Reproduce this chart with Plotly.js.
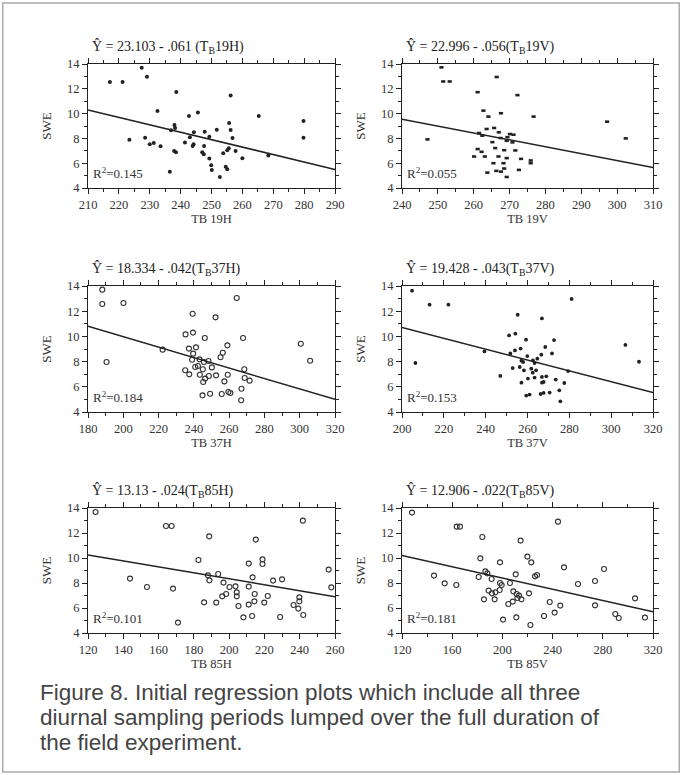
<!DOCTYPE html>
<html>
<head>
<meta charset="utf-8">
<script src="https://cdn.plot.ly/plotly-3.0.1.min.js"></script>
<style>html,body{margin:0;padding:0;background:#fff}#chart{width:682px;height:775px}</style>
</head>
<body>
<div id="chart"></div>
<script>
// ---- Data ----
const xTitles = ["TB 19H", "TB 19V", "TB 37H", "TB 37V", "TB 85H", "TB 85V"];
const eqTitles = [
  "Ŷ = 23.103 - .061 (T<sub>B</sub>19H)",
  "Ŷ = 22.996 - .056(T<sub>B</sub>19V)",
  "Ŷ = 18.334 - .042(T<sub>B</sub>37H)",
  "Ŷ = 19.428 - .043(T<sub>B</sub>37V)",
  "Ŷ = 13.13 - .024(T<sub>B</sub>85H)",
  "Ŷ = 12.906 - .022(T<sub>B</sub>85V)"
];
const r2Values = ["0.145", "0.055", "0.184", "0.153", "0.101", "0.181"];
const captionLines = [
  "Figure 8. Initial regression plots which include all three",
  "diurnal sampling periods lumped over the full duration of",
  "the field experiment."
];

const p1x = [217.1,221.2,227.4,229.1,223.4,228.5,230.0,231.3,233.5,232.5,238.6,236.5,236.9,238.0,238.2,237.9,238.5,241.4,242.7,243.0,243.9,244.2,244.3,245.6,247.0,247.5,247.6,247.8,249.3,249.3,249.9,250.1,251.7,252.7,253.8,254.6,255.1,255.1,255.6,255.7,256.2,256.2,256.8,257.8,260.0,265.3,268.4,279.8,279.8];
const p1y = [12.55,12.55,13.7,12.98,7.9,8.06,7.52,7.63,7.36,10.21,11.74,5.32,8.65,9.08,8.84,6.98,6.88,7.66,9.81,8.09,7.39,7.52,8.49,10.08,6.88,6.72,7.39,8.54,8.14,6.37,5.83,5.45,8.70,4.89,6.80,5.72,5.51,7.04,7.20,9.24,11.45,8.68,8.03,6.98,6.39,9.81,6.63,9.40,8.06];

const p2x = [251.0,251.5,253.3,266.4,261.1,272.2,247.1,262.7,264.1,267.6,276.7,297.2,302.4,261.5,262.4,263.6,265.7,267.0,267.5,269.2,269.4,270.1,271.1,270.8,265.2,266.0,261.1,260.1,262.2,263.1,266.9,268.5,269.2,268.3,271.6,273.2,275.9,275.9,272.6,265.5,267.6,266.3,268.5,263.8,269.2];
const p2y = [13.73,12.59,12.59,12.95,11.73,11.49,7.92,10.24,9.76,10.03,9.76,9.35,8.0,8.43,8.22,8.76,8.84,8.49,8.03,7.81,8.1,8.35,8.3,7.68,7.70,7.22,7.14,6.54,6.92,6.54,6.54,7.05,6.41,6.0,7.03,6.35,6.22,6.0,5.46,6.0,5.32,5.38,5.57,5.24,4.89];

const p3x = [188.1,188.1,200.1,190.5,264.3,239.3,252.3,235.3,239.5,246.2,267.9,222.3,237.2,241.2,239.6,259.0,256.4,255.1,300.6,305.9,239.0,243.2,245.7,248.3,268.6,235.1,237.4,240.8,242.3,245.1,250.2,243.4,248.5,252.6,259.2,246.4,245.3,257.3,268.8,271.6,267.0,244.9,249.2,255.8,259.6,260.7,266.8];
const p3y = [13.71,12.57,12.65,7.97,13.05,11.8,11.51,10.16,10.30,9.87,9.87,8.95,9.03,9.13,8.63,9.29,8.70,8.34,9.42,8.07,8.15,8.18,7.97,8.05,7.39,7.31,6.99,7.57,7.65,7.39,7.54,6.96,6.86,6.91,6.96,6.65,6.38,6.43,6.70,6.49,5.85,5.32,5.45,5.43,5.59,5.51,4.93];

const p4x = [204.8,213.2,222.2,206.4,281.1,255.3,266.9,251.2,254.2,259.3,272.7,268.5,239.4,254.0,256.7,251.8,271.7,306.8,313.3,257.1,259.9,262.6,264.7,266.6,257.9,263.4,247.0,252.9,256.3,258.3,261.8,262.5,264.1,260.2,263.4,266.9,269.0,267.7,273.5,277.6,257.1,266.9,275.2,259.4,261.0,266.3,267.7,270.6,275.7,279.4];
const p4y = [13.63,12.52,12.52,7.89,12.97,11.72,11.43,10.08,10.22,9.74,9.71,9.16,8.81,8.89,9.03,8.65,8.65,9.32,7.99,8.07,8.44,8.10,8.23,8.55,7.97,7.89,6.86,7.49,7.57,7.31,7.44,7.12,7.31,6.65,6.73,6.78,6.83,6.38,6.57,6.30,6.33,6.33,5.72,5.30,5.38,5.43,5.51,5.54,4.85,7.25];

const p5x = [124.3,164.2,167.4,241.8,188.7,215.1,182.6,218.9,218.9,211.1,256.4,143.8,153.4,168.2,188.0,193.8,188.8,213.3,224.9,230.0,257.9,196.8,200.2,203.6,198.3,196.1,204.3,204.3,211.1,214.5,221.9,239.8,239.8,185.8,192.7,211.1,214.3,219.9,205.3,236.5,239.2,228.9,242.0,208.1,213.0,171.0];
const p5y = [13.68,12.56,12.56,12.99,11.73,11.47,9.84,9.89,9.52,9.55,9.07,8.35,7.68,7.55,8.61,8.72,8.21,8.45,8.19,8.29,7.65,8.03,7.68,7.73,7.12,6.93,7.25,6.93,7.71,7.12,6.96,6.85,6.53,6.45,6.43,6.27,6.53,6.43,6.16,6.24,5.95,5.28,5.44,5.25,5.36,4.83];

const p6x = [128.0,163.6,166.2,244.3,184.0,214.5,182.4,219.9,223.0,198.1,249.1,281.0,145.5,154.0,163.3,181.1,186.4,188.0,191.4,210.6,226.0,227.6,260.2,273.8,305.7,198.1,199.4,206.0,189.0,191.7,194.4,197.8,208.7,211.4,213.2,221.2,185.3,193.8,212.0,215.2,208.2,204.7,237.7,246.1,273.8,290.0,292.7,313.6,200.5,211.1,222.3,233.2,241.6];
const p6y = [13.63,12.51,12.51,12.91,11.68,11.39,9.97,10.11,9.65,9.65,9.25,9.12,8.59,7.97,7.84,8.48,8.93,8.77,8.32,8.69,8.53,8.64,7.92,8.16,6.77,8.00,7.84,8.00,7.39,7.17,7.25,7.44,7.33,7.12,6.99,7.17,6.69,6.69,6.80,6.69,6.51,6.32,6.48,6.19,6.21,5.52,5.20,5.23,5.07,5.25,4.64,5.36,5.63];

// regression line end points
const lineX = [[210,290],[240,310],[180,320],[200,320],[120,260],[120,320]];
const lineY = [[10.3,5.5],[9.55,5.65],[10.8,5.0],[10.7,5.55],[10.25,6.9],[10.2,5.7]];

// axis ranges and tick spacing
const xRanges = [[210,290],[240,310],[180,320],[200,320],[120,260],[120,320]];
const xDticks = [10,10,20,20,20,40];
const xMinor = [5,5,10,10,10,20];

// ---- Build figure ----
const W = 682, H = 775;
const colPx = [[88,335],[402,653]];
const rowPx = [[64,188],[286,412],[508,633]];
const pts = [[p1x,p1y],[p2x,p2y],[p3x,p3y],[p4x,p4y],[p5x,p5y],[p6x,p6y]];
const openCircle = {symbol:'circle-open', size:5, color:'#333', line:{width:1.1,color:'#333'}};
const markerStyles = [
  {symbol:'circle', size:4, color:'#222'},
  {symbol:'line-ew', size:3, color:'#222', line:{width:2.6,color:'#222'}},
  openCircle,
  {symbol:'circle', size:3.8, color:'#222'},
  openCircle,
  openCircle
];

const serif = 'Liberation Serif, Times New Roman, serif';
const traces = [];
const layout = {
  width: W, height: H,
  margin: {l:0, r:0, t:0, b:0},
  paper_bgcolor: '#fff', plot_bgcolor: '#fff',
  showlegend: false,
  annotations: [],
  shapes: [{type:'rect', xref:'paper', yref:'paper', x0:0.004, x1:0.996, y0:0.004, y1:0.996,
            line:{color:'#aaa', width:1.5}}]
};

for (let i = 0; i < 6; i++) {
  const c = i % 2, r = Math.floor(i / 2);
  const ax = i === 0 ? '' : String(i + 1);
  const xd = [colPx[c][0] / W, colPx[c][1] / W];
  const yd = [1 - rowPx[r][1] / H, 1 - rowPx[r][0] / H];
  traces.push({
    x: pts[i][0], y: pts[i][1], type: 'scatter', mode: 'markers',
    xaxis: 'x' + ax, yaxis: 'y' + ax, marker: markerStyles[i], hoverinfo: 'x+y'
  });
  traces.push({
    x: lineX[i], y: lineY[i], type: 'scatter', mode: 'lines',
    xaxis: 'x' + ax, yaxis: 'y' + ax, line: {color:'#222', width:1.5}
  });
  const common = {
    showline: true, linecolor: '#222', linewidth: 1, mirror: 'ticks',
    ticks: 'outside', ticklen: 5, tickwidth: 1, tickcolor: '#222',
    showgrid: false, zeroline: false,
    tickfont: {family: serif, size: 12.5, color: '#333'}
  };
  layout['xaxis' + ax] = Object.assign({}, common, {
    domain: xd, anchor: 'y' + ax, range: xRanges[i],
    tick0: xRanges[i][0], dtick: xDticks[i],
    minor: {dtick: xMinor[i], ticks: 'outside', ticklen: 3, tickcolor: '#222'},
    title: {text: xTitles[i], font: {family: serif, size: 12.5, color: '#333'}, standoff: 0}
  });
  layout['yaxis' + ax] = Object.assign({}, common, {
    domain: yd, anchor: 'x' + ax, range: [4, 14],
    tick0: 4, dtick: 2,
    minor: {dtick: 1, ticks: 'outside', ticklen: 3, tickcolor: '#222'},
    title: {text: 'SWE', font: {family: serif, size: 13, color: '#333'}, standoff: 12}
  });
  layout.annotations.push({
    text: eqTitles[i], xref: 'paper', yref: 'paper',
    x: (colPx[c][0] + 2) / W, y: 1 - (rowPx[r][0] - 17) / H,
    xanchor: 'left', yanchor: 'middle', showarrow: false,
    font: {family: serif, size: 14, color: '#222'}
  });
  layout.annotations.push({
    text: 'R<sup>2</sup>=' + r2Values[i], xref: 'x' + ax + ' domain', yref: 'y' + ax + ' domain',
    x: 0.012, y: 0.12, xanchor: 'left', yanchor: 'middle', showarrow: false,
    font: {family: serif, size: 13, color: '#333'}
  });
}

captionLines.forEach((t, k) => {
  layout.annotations.push({
    text: t, xref: 'paper', yref: 'paper', x: 38 / W, y: 1 - (692 + 25 * k) / H,
    xanchor: 'left', yanchor: 'middle', align: 'left', showarrow: false,
    font: {family: 'Liberation Sans, Arial, sans-serif', size: 22.5, color: '#444'}
  });
});

Plotly.newPlot('chart', traces, layout, {staticPlot: true, displayModeBar: false});
</script>
</body>
</html>
